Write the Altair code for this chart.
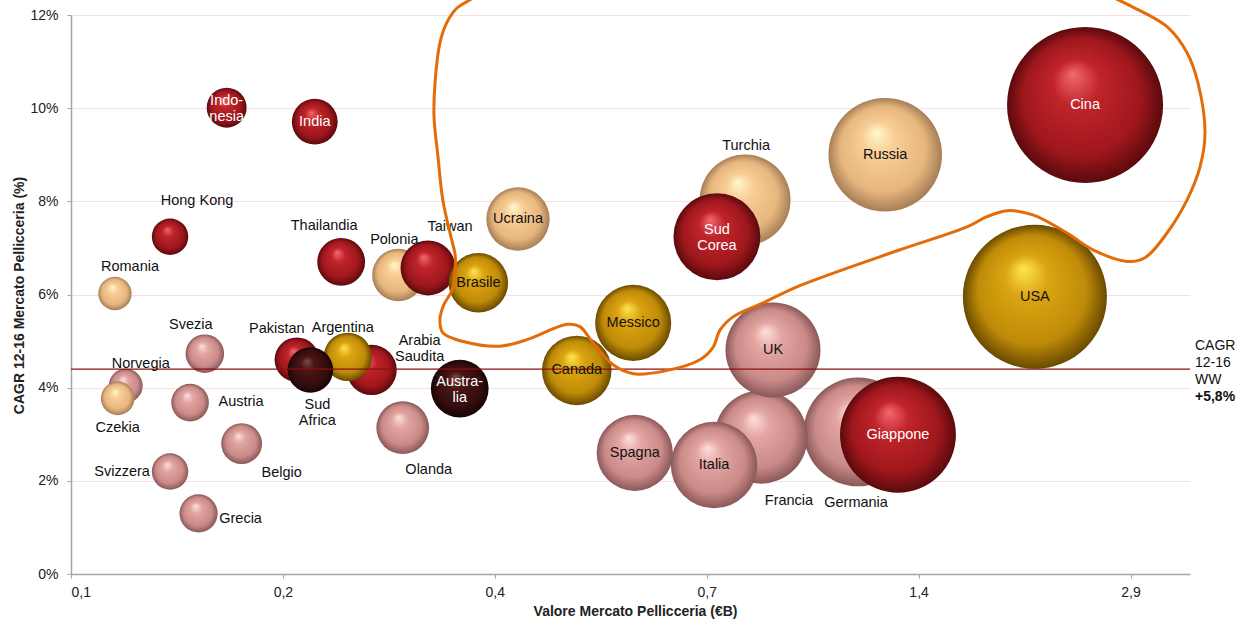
import math
import altair as alt
import pandas as pd

# ---------------- data ----------------
countries = ["Cina", "USA", "Russia", "Germania", "Giappone", "Francia", "UK", "Turchia",
             "Sud Corea", "Italia", "Spagna", "Messico", "Canada", "Ucraina", "Polonia",
             "Taiwan", "Brasile", "Olanda", "Australia", "Arabia Saudita", "Argentina",
             "Pakistan", "Sud Africa", "Thailandia", "India", "Indonesia", "Belgio",
             "Svezia", "Austria", "Grecia", "Svizzera", "Hong Kong", "Norvegia", "Czekia",
             "Romania"]
label_text = ["Cina", "USA", "Russia", "Germania", "Giappone", "Francia", "UK", "Turchia",
              "Sud\nCorea", "Italia", "Spagna", "Messico", "Canada", "Ucraina", "Polonia",
              "Taiwan", "Brasile", "Olanda", "Austra-\nlia", "Arabia\nSaudita", "Argentina",
              "Pakistan", "Sud\nAfrica", "Thailandia", "India", "Indo-\nnesia", "Belgio",
              "Svezia", "Austria", "Grecia", "Svizzera", "Hong Kong", "Norvegia", "Czekia",
              "Romania"]
# market value (€B) -> x position and bubble area
market_value = [2.51, 2.14, 1.33, 1.22, 1.385, 0.896, 0.931, 0.852, 0.779, 0.772, 0.600,
                0.597, 0.499, 0.414, 0.283, 0.311, 0.365, 0.287, 0.344, 0.260, 0.241,
                0.205, 0.214, 0.236, 0.217, 0.164, 0.172, 0.153, 0.146, 0.150, 0.137,
                0.137, 0.119, 0.116, 0.115]
# CAGR 12-16 (%)
cagr = [10.07, 5.95, 9.00, 3.05, 2.99, 2.94, 4.81, 8.03, 7.24, 2.34, 2.60, 5.39, 4.37,
        7.62, 6.42, 6.57, 6.25, 3.14, 3.98, 4.38, 4.66, 4.60, 4.38, 6.70, 9.71, 10.01,
        2.80, 4.73, 3.68, 1.30, 2.20, 7.24, 4.04, 3.77, 6.02]
tone = ["red", "gold", "beige", "pink", "red", "pink", "pink", "beige", "red", "pink",
        "pink", "gold", "gold", "beige", "beige", "red", "gold", "pink", "dark", "red",
        "gold", "red", "dark", "red", "red", "red", "pink", "pink", "pink", "pink", "pink",
        "red", "pink", "beige", "beige"]

x_tick_labels = ["0,1", "0,2", "0,4", "0,7", "1,4", "2,9"]
y_tick_values = [0, 2, 4, 6, 8, 10, 12]
ww_cagr = 4.4
ww_lines = ["CAGR", "12-16", "WW"]
ww_value = "+5,8%"

# hand-drawn orange outline (in data units: €B, %)
outline_x = [0.381, 0.355, 0.341, 0.330, 0.323, 0.318, 0.317, 0.321, 0.326, 0.334, 0.339,
             0.339, 0.336, 0.327, 0.323, 0.326, 0.348, 0.391, 0.426, 0.484, 0.504, 0.525,
             0.560, 0.597, 0.656, 0.738, 0.769, 0.787, 0.820, 0.902, 1.014, 1.394, 1.725,
             1.838, 1.959, 2.127, 2.370, 2.574, 2.868, 3.037, 3.257, 3.471, 3.617, 3.675,
             3.594, 3.471, 3.257, 2.923, 2.632, 2.470]
outline_y = [12.62, 12.32, 12.15, 11.83, 11.40, 10.54, 9.81, 8.96, 8.03, 7.28, 6.85,
             6.53, 6.10, 5.78, 5.46, 5.18, 4.99, 4.89, 5.03, 5.36, 5.31, 4.97,
             4.49, 4.30, 4.35, 4.60, 4.86, 5.24, 5.52, 5.82, 6.19, 6.96, 7.45,
             7.67, 7.80, 7.71, 7.32, 6.96, 6.71, 6.79, 7.32, 8.03, 8.74, 9.47,
             10.54, 11.19, 11.75, 12.17, 12.50, 12.67]

# ---------------- layout / style ----------------
W, H = 1119, 559
STEP_PX = 211.9                      # pixels between two x ticks
B = 29 ** 0.2                        # ratio between consecutive x ticks
LN_B = math.log(B)
X_MIN = 0.1
X_MAX = X_MIN * B ** (W / STEP_PX)
PX_PER_PCT = H / 12.0
LINE_H = 16
tick_values = [X_MIN * B ** i for i in range(len(x_tick_labels))]

FONT = "Liberation Sans"

# label offsets (px) from bubble centre for labels written outside the bubble
label_offset = {
    "Germania": (-2, 71), "Francia": (28, 64), "Turchia": (1, -54), "Polonia": (-4, -35),
    "Taiwan": (22, -41), "Olanda": (26, 42), "Arabia Saudita": (48, -22),
    "Argentina": (-5, -29), "Pakistan": (-20, -31), "Sud Africa": (7, 42),
    "Thailandia": (-17, -36), "Belgio": (40, 29), "Svezia": (-14, -29),
    "Austria": (51, -1), "Grecia": (42, 6), "Svizzera": (-48, 0), "Hong Kong": (27, -36),
    "Norvegia": (15, -22), "Czekia": (0, 30), "Romania": (15, -27),
}


def sphere(hi, base, mid, rim):
    return {"gradient": "radial", "x1": 0.42, "y1": 0.3, "r1": 0.0,
            "x2": 0.5, "y2": 0.5, "r2": 0.5,
            "stops": [{"offset": 0.0, "color": hi},
                      {"offset": 0.3, "color": base},
                      {"offset": 0.75, "color": mid},
                      {"offset": 1.0, "color": rim}]}


grads = {
    "red": sphere("#f26a70", "#c0242a", "#9e171c", "#5a0a0d"),
    "pink": sphere("#fde0de", "#e2a5a2", "#c98a88", "#8a5858"),
    "beige": sphere("#fff8cc", "#f8cd95", "#e6b67e", "#a67e56"),
    "gold": sphere("#ffe552", "#dca412", "#bf8b08", "#6a4a00"),
    "dark": sphere("#7e4a4a", "#4a1515", "#360d0d", "#180404"),
}

# ---------------- tables ----------------
df = pd.DataFrame({"country": countries, "label": label_text, "value": market_value,
                   "cagr": cagr, "tone": tone})
df["z"] = range(len(df))
lx, ly, lc = [], [], []
for c, t_, v, g, t in zip(countries, label_text, market_value, cagr, tone):
    dx, dy = label_offset.get(c, (0, 0))
    n_lines = t_.count("\n") + 1
    dy -= (n_lines - 1) * LINE_H / 2.0 - (1 if n_lines > 1 else 0)
    lx.append(v * B ** (dx / STEP_PX))
    ly.append(g - dy / PX_PER_PCT)
    inside = c not in label_offset
    lc.append("#ffffff" if inside and t in ("red", "dark") else "#111111")
df["lx"], df["ly"], df["lc"] = lx, ly, lc

outline = pd.DataFrame({"x": outline_x, "y": outline_y, "i": range(len(outline_x))})
one = pd.DataFrame({"k": [0]})

x_scale = alt.Scale(type="log", domain=[X_MIN, X_MAX], nice=False)
y_scale = alt.Scale(domain=[0, 12], nice=False, zero=True)

label_arr = "[" + ",".join("'%s'" % s for s in x_tick_labels) + "]"
x_axis = alt.Axis(
    values=tick_values,
    labelExpr=f"{label_arr}[round(log(datum.value/{X_MIN})/{LN_B})]",
    title="Valore Mercato Pellicceria (€B)", grid=False,
    domainColor="#a6a6a6", domainWidth=1.5, tickColor="#a6a6a6", tickSize=4,
    labelFont=FONT, labelFontSize=14, labelColor="#222222", labelPadding=7,
    titleFont=FONT, titleFontSize=14, titleFontWeight="bold", titleColor="#222222",
    titleX=564, titleY=37, titleBaseline="middle", titleAlign="center")
y_axis = alt.Axis(
    values=y_tick_values, labelExpr="datum.value + '%'",
    title="CAGR 12-16 Mercato Pellicceria (%)", grid=True, gridColor="#f8dde4",
    gridWidth=1, domainColor="#a6a6a6", domainWidth=1.5, tickColor="#a6a6a6", tickSize=4,
    labelFont=FONT, labelFontSize=14, labelColor="#222222", labelPadding=9,
    titleFont=FONT, titleFontSize=14, titleFontWeight="bold", titleColor="#222222",
    titleX=-52, titleY=280, titleAngle=-90, titleBaseline="middle", titleAlign="center")

fill_enc = {
    "condition": [{"test": f"datum.tone === '{k}'", "value": grads[k]}
                  for k in ("red", "beige", "gold", "dark")],
    "value": grads["pink"],
}

bubbles = alt.Chart(df).mark_circle(opacity=1, strokeWidth=0).encode(
    x=alt.X("value:Q", scale=x_scale, axis=x_axis),
    y=alt.Y("cagr:Q", scale=y_scale, axis=y_axis),
    size=alt.Size("value:Q", scale=alt.Scale(domain=[0, 2.51], range=[0, 24336]),
                  legend=None),
    fill=fill_enc,
    order=alt.Order("z:Q"),
)

rule = alt.Chart(one).mark_rule(color="#8a1010", strokeWidth=1.2).encode(
    y=alt.datum(ww_cagr, scale=y_scale, axis=y_axis))

labels = alt.Chart(df).mark_text(
    font=FONT, fontSize=14.5, lineBreak="\n", lineHeight=LINE_H, align="center",
    baseline="middle", clip=False).encode(
    x=alt.X("lx:Q", scale=x_scale, axis=x_axis),
    y=alt.Y("ly:Q", scale=y_scale, axis=y_axis),
    text="label:N",
    color=alt.Color("lc:N", scale=None),
)

orange = alt.Chart(outline).mark_line(
    color="#e36c09", strokeWidth=3, interpolate="catmull-rom", clip=False).encode(
    x=alt.X("x:Q", scale=x_scale, axis=x_axis),
    y=alt.Y("y:Q", scale=y_scale, axis=y_axis),
    order=alt.Order("i:Q"),
)

notes = []
line_dy = [-23, -6, 11]
for txt, dy in zip(ww_lines, line_dy):
    notes.append(alt.Chart(one).mark_text(
        font=FONT, fontSize=14, align="left", baseline="middle", dy=dy, clip=False,
        color="#111111").encode(
        x=alt.value(W + 5), y=alt.datum(ww_cagr, scale=y_scale, axis=y_axis),
        text=alt.value(txt)))
notes.append(alt.Chart(one).mark_text(
    font=FONT, fontSize=14, fontWeight="bold", align="left", baseline="middle", dy=28,
    clip=False, color="#111111").encode(
    x=alt.value(W + 5), y=alt.datum(ww_cagr, scale=y_scale, axis=y_axis),
    text=alt.value(ww_value)))

chart = alt.layer(bubbles, rule, labels, orange, *notes).properties(
    width=W, height=H,
    autosize=alt.AutoSizeParams(type="none"),
    padding={"left": 71, "top": 15, "right": 54, "bottom": 49},
).configure_view(stroke=None)

chart.save("out.html", embed_options={"renderer": "svg", "actions": False})
